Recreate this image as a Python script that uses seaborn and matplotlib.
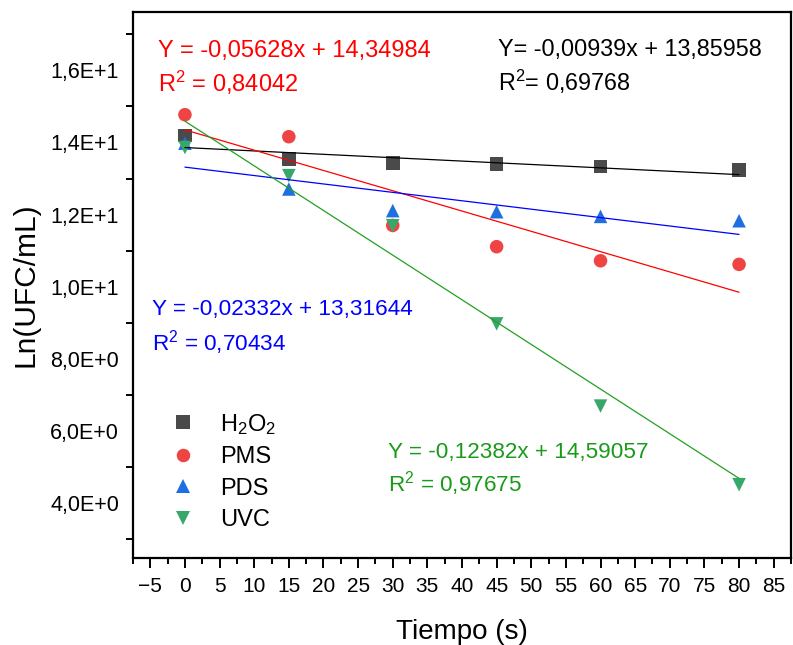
"""Inactivation kinetics: Ln(UFC/mL) vs time with linear fits per oxidant."""
import matplotlib

matplotlib.use("Agg")
import matplotlib.pyplot as plt
import numpy as np
import pandas as pd
import seaborn as sns
from matplotlib.ticker import FixedLocator, FuncFormatter, MultipleLocator

# --- data ---
TIME_S = [0, 15, 30, 45, 60, 80]
H2O2 = [14.19, 13.54, 13.43, 13.40, 13.34, 13.23]
PMS = [14.77, 14.16, 11.70, 11.11, 10.72, 10.62]
PDS = [13.98, 12.71, 12.11, 12.08, 11.95, 11.83]
UVC = [13.86, 13.08, 11.69, 8.97, 6.69, 4.51]

SERIES_LABELS = ["H$_2$O$_2$", "PMS", "PDS", "UVC"]
MARKERS = ["s", "o", "^", "v"]
MARKER_COLORS = ["#4a4a4a", "#ef4444", "#1f6fe0", "#38a86a"]
LINE_COLORS = ["#000000", "#ff0000", "#0000ff", "#22a022"]
TEXT_COLORS = ["#000000", "#ff0000", "#0000ff", "#1a9a1a"]

# fitted lines as printed on the chart
SLOPES = [-0.00939, -0.05628, -0.02332, -0.12382]
INTERCEPTS = [13.85958, 14.34984, 13.31644, 14.59057]
FIT_RANGE = [0, 80]
EQUATIONS = [
    "Y= -0,00939x + 13,85958",
    "Y = -0,05628x + 14,34984",
    "Y = -0,02332x + 13,31644",
    "Y = -0,12382x + 14,59057",
]
R2_LABELS = [
    "R$^2$= 0,69768",
    "R$^2$ = 0,84042",
    "R$^2$ = 0,70434",
    "R$^2$ = 0,97675",
]
# (x, y of equation line, y of R2 line) in data units, and font size
TEXT_POS = [(45.2, 16.58, 15.68), (-3.9, 16.55, 15.66), (-4.8, 9.37, 8.46), (29.3, 5.41, 4.53)]
TEXT_SIZES = [16.8, 17.0, 16.2, 16.2]

Y_TICKS = [4, 6, 8, 10, 12, 14, 16]
Y_MINOR = [3, 5, 7, 9, 11, 13, 15, 17]


def sci_comma(value, _pos=None):
    """Format like Origin: 1,6E+1 / 8,0E+0."""
    exp = int(np.floor(np.log10(abs(value))))
    mant = value / 10 ** exp
    return f"{mant:.1f}".replace(".", ",") + f"E+{exp}"


def main():
    sns.set_style("ticks")
    plt.rcParams["font.family"] = ["Liberation Sans", "DejaVu Sans"]
    plt.rcParams["mathtext.fontset"] = "custom"
    plt.rcParams["mathtext.rm"] = "Liberation Sans"
    plt.rcParams["mathtext.it"] = "Liberation Sans:italic"
    for key in ["text.color", "axes.labelcolor", "xtick.color", "ytick.color"]:
        plt.rcParams[key] = "black"

    df = pd.DataFrame(
        {
            "Tiempo": TIME_S * 4,
            "LnUFC": H2O2 + PMS + PDS + UVC,
            "serie": [lab for lab in SERIES_LABELS for _ in TIME_S],
        }
    )

    fig = plt.figure(figsize=(7.93, 6.45), dpi=100)
    ax = fig.add_axes([0.1677, 0.135, 0.8298, 0.8465])

    sns.scatterplot(
        data=df,
        x="Tiempo",
        y="LnUFC",
        hue="serie",
        style="serie",
        hue_order=SERIES_LABELS,
        style_order=SERIES_LABELS,
        palette=MARKER_COLORS,
        markers=MARKERS,
        s=95,
        linewidth=0,
        ax=ax,
        zorder=2,
    )

    # regression lines from the printed equations, drawn above the markers
    xs = np.array(FIT_RANGE, dtype=float)
    for slope, icpt, color in zip(SLOPES, INTERCEPTS, LINE_COLORS):
        sns.lineplot(x=xs, y=icpt + slope * xs, color=color, lw=0.9, ax=ax, legend=False, zorder=3)

    for (tx, ty, ry), eq, r2, color, size in zip(TEXT_POS, EQUATIONS, R2_LABELS, TEXT_COLORS, TEXT_SIZES):
        ax.text(tx, ty, eq, color=color, fontsize=size, ha="left", va="center")
        ax.text(tx, ry, r2, color=color, fontsize=size, ha="left", va="center")

    ax.set_xlim(-7.5, 87.5)
    ax.set_ylim(2.48, 17.62)
    ax.xaxis.set_major_locator(MultipleLocator(5))
    ax.xaxis.set_minor_locator(MultipleLocator(2.5))
    ax.yaxis.set_major_locator(FixedLocator(Y_TICKS))
    ax.yaxis.set_minor_locator(FixedLocator(Y_MINOR))
    ax.yaxis.set_major_formatter(FuncFormatter(sci_comma))

    ax.tick_params(axis="x", which="major", direction="out", length=7, width=1.4, labelsize=15, pad=7)
    ax.tick_params(axis="x", which="minor", direction="out", length=4, width=1.4)
    ax.tick_params(axis="y", which="major", length=0, labelsize=15.5, pad=10)
    ax.tick_params(axis="y", which="minor", direction="out", length=5, width=1.4)

    for side in ["left", "bottom", "top", "right"]:
        ax.spines[side].set_visible(True)
        ax.spines[side].set_linewidth(1.6)
        ax.spines[side].set_color("black")

    ax.set_xlabel("Tiempo (s)", fontsize=20, labelpad=16)
    ax.set_ylabel("Ln(UFC/mL)", fontsize=21.5, labelpad=8)

    ax.legend(
        loc="upper left",
        bbox_to_anchor=(0.026, 0.285),
        frameon=False,
        fontsize=17,
        handletextpad=0.55,
        labelspacing=0.4,
        borderaxespad=0,
    )

    fig.savefig("out.png", dpi=100)
    plt.close(fig)


if __name__ == "__main__":
    main()
